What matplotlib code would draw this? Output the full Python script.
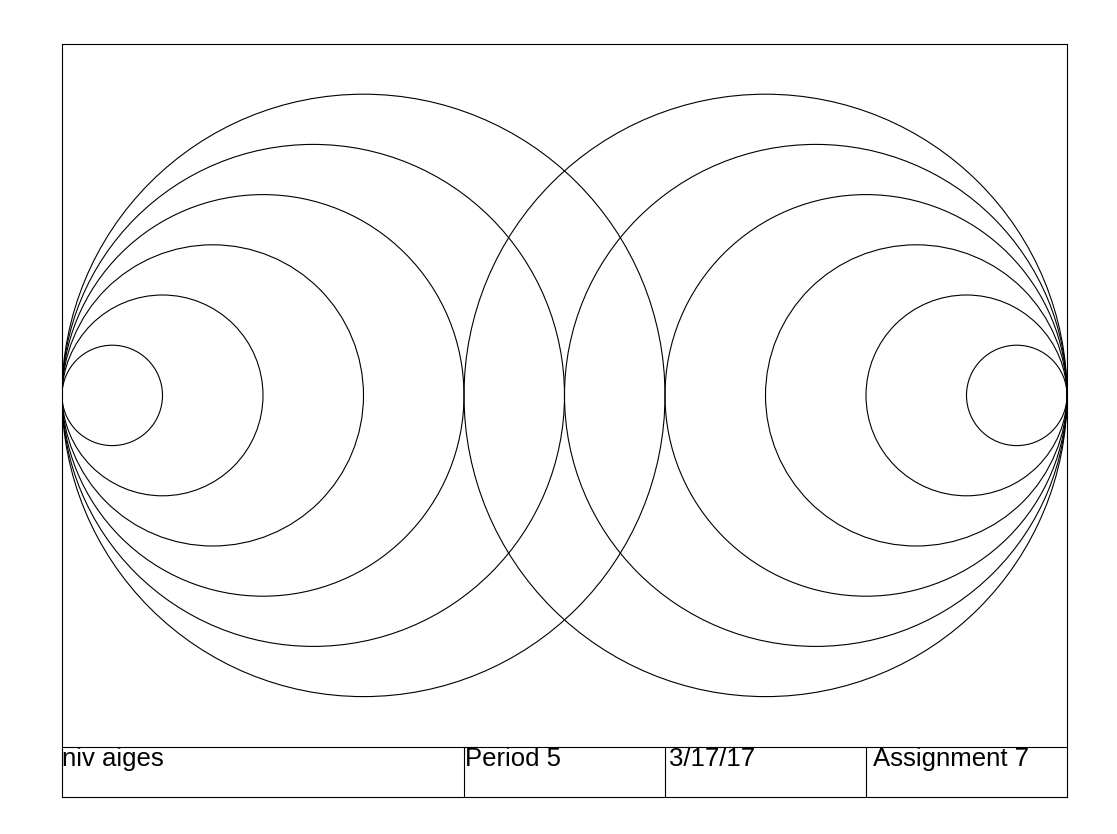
import matplotlib
matplotlib.use("Agg")
import matplotlib.pyplot as plt
from matplotlib.patches import Circle

# Drawing data (drawing units)
sheet_width = 10.0
sheet_height = 7.5
radii = [0.5, 1.0, 1.5, 2.0, 2.5, 3.0]
left_tangent = (0.0, 4.0)
right_tangent = (10.0, 4.0)
title_block_height = 0.5
title_dividers = [4.0, 6.0, 8.0]
title_texts = ["niv aiges", "Period 5", "3/17/17", "Assignment 7"]
title_text_x = [0.0, 4.01, 6.04, 8.07]

W, H = 1117, 834
fig = plt.figure(figsize=(W / 100, H / 100), dpi=100)
ax = fig.add_axes([62 / W, (H - 797) / H, (1067 - 62) / W, (797 - 44) / H])
ax.set_xlim(0, sheet_width)
ax.set_ylim(0, sheet_height)
ax.set_xticks([])
ax.set_yticks([])
for s in ax.spines.values():
    s.set_linewidth(0.8)
    s.set_color("black")

lw = 0.8
for r in radii:
    ax.add_patch(Circle((left_tangent[0] + r, left_tangent[1]), r, fill=False,
                        edgecolor="black", linewidth=lw))
    ax.add_patch(Circle((right_tangent[0] - r, right_tangent[1]), r, fill=False,
                        edgecolor="black", linewidth=lw))

# Title block
ax.plot([0, sheet_width], [title_block_height, title_block_height], color="black", linewidth=lw)
for xd in title_dividers:
    ax.plot([xd, xd], [0, title_block_height], color="black", linewidth=lw)
for t, xt in zip(title_texts, title_text_x):
    ax.text(xt, title_block_height - 0.19, t, fontsize=18.5, family="Liberation Sans",
            ha="left", va="baseline", color="black")

fig.savefig("out.png", dpi=100, facecolor="white")
